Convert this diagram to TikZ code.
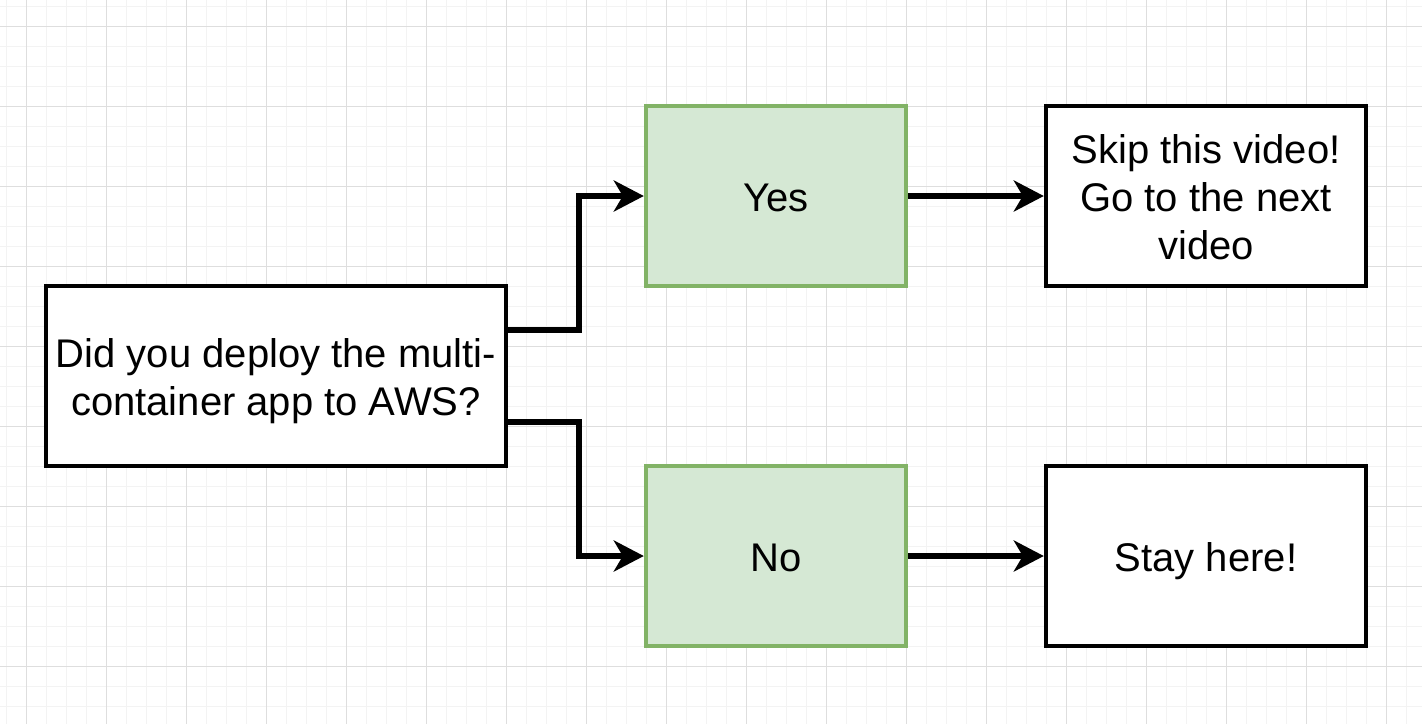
\documentclass[tikz,border=0pt]{standalone}
\usepackage{fontspec}
\setmainfont{Liberation Sans}
\usetikzlibrary{arrows.meta,calc}
\definecolor{gridminor}{HTML}{F3F3F3}
\definecolor{gridmajor}{HTML}{DEDEDE}
\definecolor{greenfill}{HTML}{D5E8D4}
\definecolor{greenline}{HTML}{82B366}
\newcommand{\lnstrut}{\rule[-4.5pt]{0pt}{24pt}}
\tikzset{
  minorline/.style={draw=gridminor,line width=0.5pt},
  majorline/.style={draw=gridmajor,line width=0.5pt},
  plainbox/.style={draw=black,fill=white,line width=2.2pt,inner sep=0pt,
    minimum height=90pt,align=center,font=\fontsize{20}{24}\selectfont},
  greenbox/.style={plainbox,draw=greenline,fill=greenfill},
  edge/.style={line width=3.1pt,draw=black,
    -{Stealth[length=15pt,width=15.5pt,inset=4.5pt]}}
}
\begin{document}
\begin{tikzpicture}[x=0.5pt,y=-0.5pt]
\useasboundingbox (0,0) rectangle (1422,724);
\fill[white] (0,0) rectangle (1422,724);
\foreach \v in {6,26,...,1422} \draw[minorline] (\v,0) -- (\v,724);
\foreach \v in {6,26,...,724} \draw[minorline] (0,\v) -- (1422,\v);
\foreach \v in {26,106,...,1422} \draw[majorline] (\v,0) -- (\v,724);
\foreach \v in {26,106,...,724} \draw[majorline] (0,\v) -- (1422,\v);

\node[plainbox,minimum width=230pt] (q) at (276,376) {\lnstrut Did you deploy the multi-\\\lnstrut container app to AWS?};
\node[greenbox,minimum width=130pt] (yes) at (776,196) {\lnstrut Yes};
\node[greenbox,minimum width=130pt] (no) at (776,556) {\lnstrut No};
\node[plainbox,minimum width=160pt] (skip) at (1206,196) {\lnstrut Skip this video!\\\lnstrut Go to the next\\\lnstrut video};
\node[plainbox,minimum width=160pt] (stay) at (1206,556) {\lnstrut Stay here!};

\draw[edge] ($(q.north east)!0.25!(q.south east)$) -- ++(71,0) |- (yes.west);
\draw[edge] ($(q.north east)!0.75!(q.south east)$) -- ++(71,0) |- (no.west);
\draw[edge] (yes.east) -- (skip.west);
\draw[edge] (no.east) -- (stay.west);
\end{tikzpicture}
\end{document}
